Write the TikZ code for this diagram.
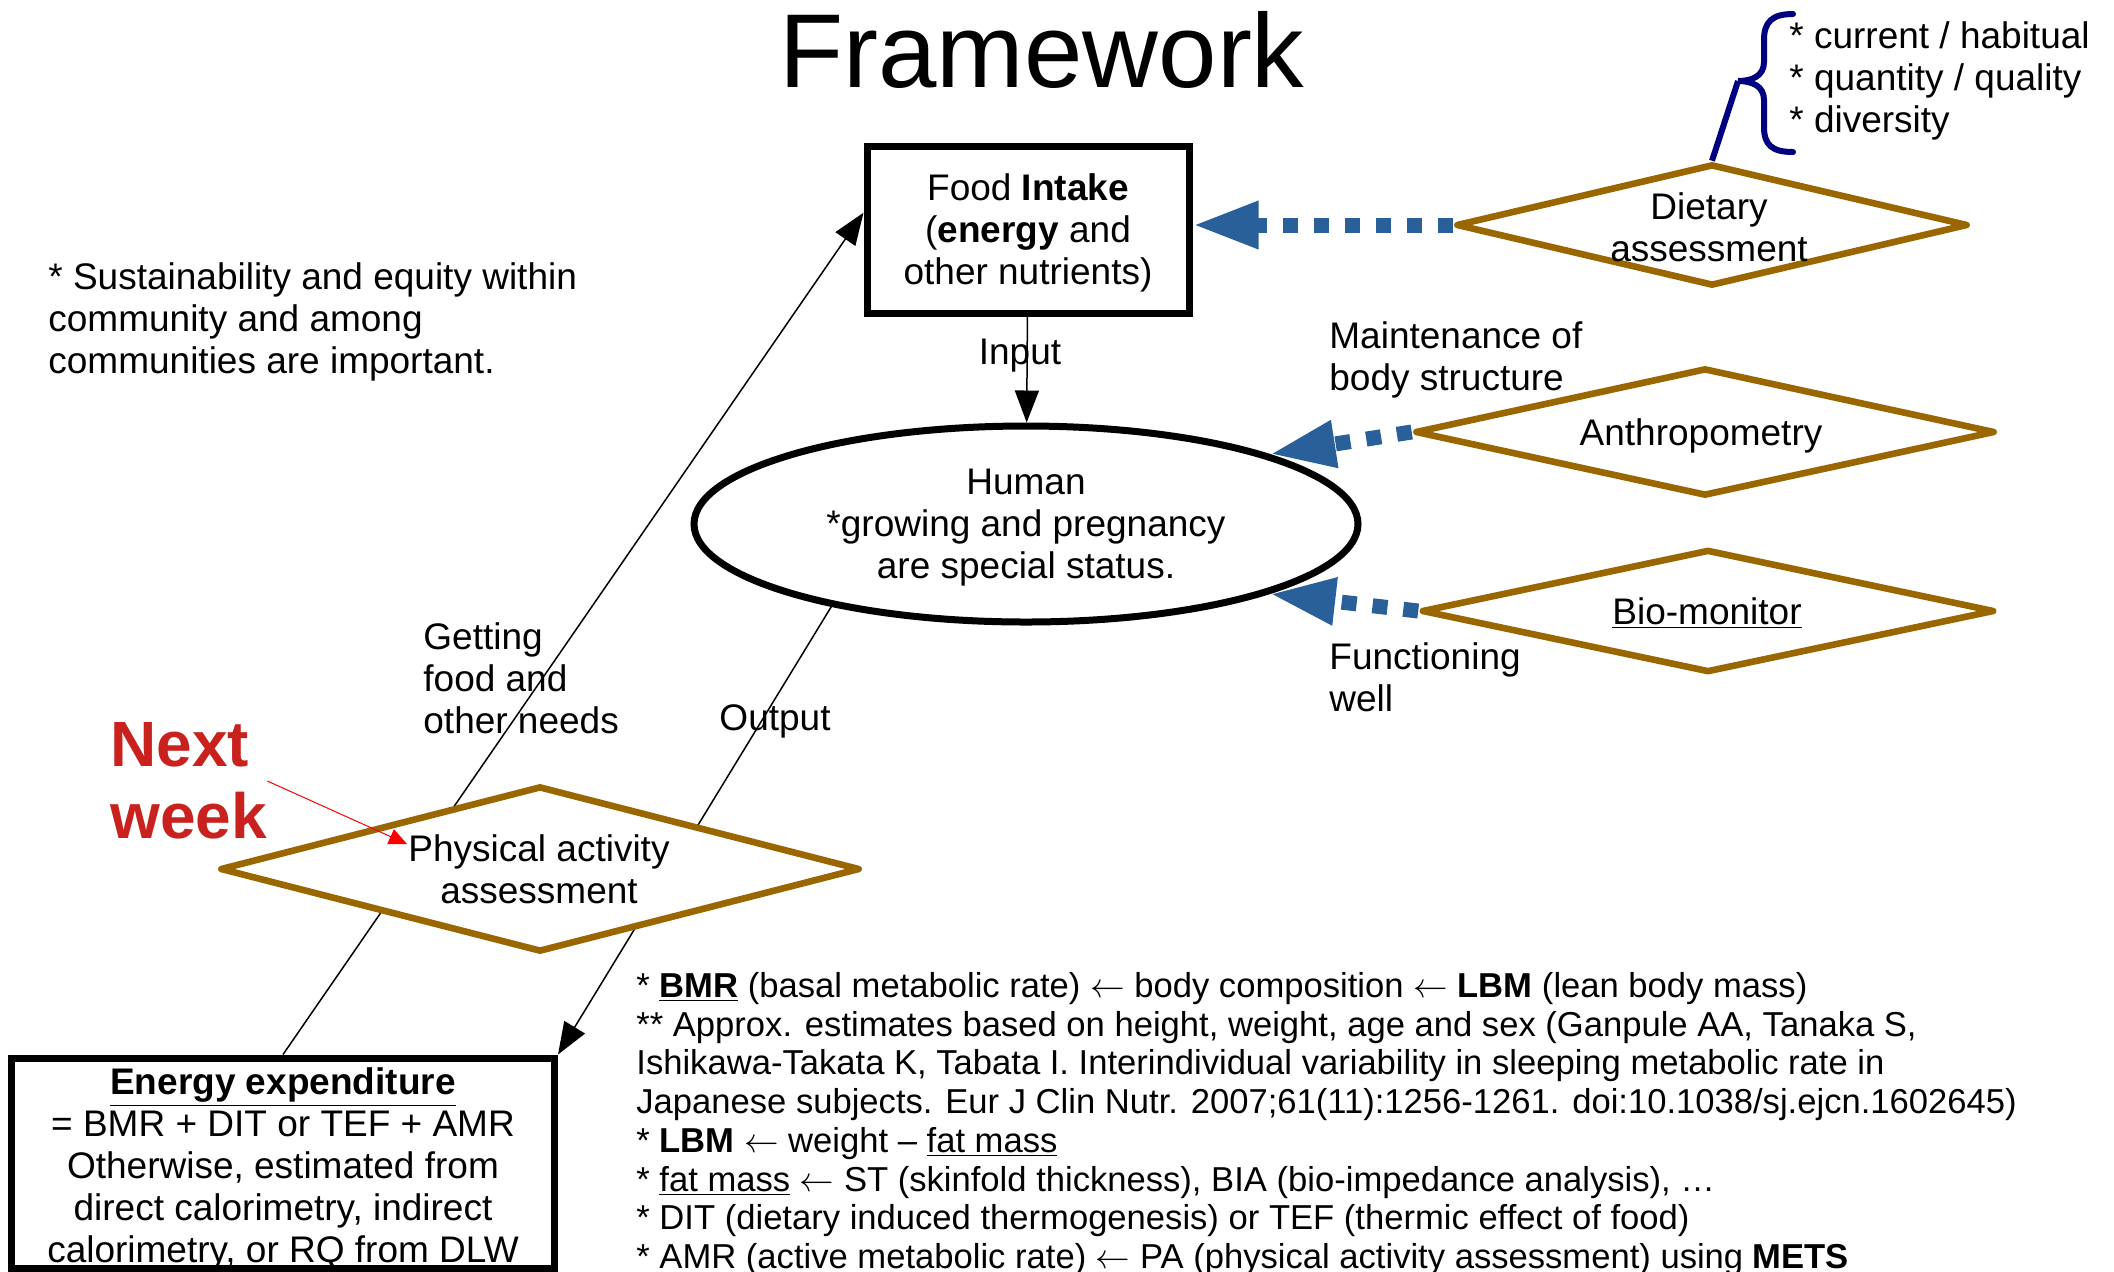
\documentclass[tikz,border=0pt]{standalone}
\usepackage{fontspec}
\setmainfont{Liberation Sans}
\usetikzlibrary{shapes.geometric,arrows.meta,backgrounds}
\definecolor{gold}{RGB}{153,102,0}
\definecolor{measureblue}{RGB}{42,96,153}
\definecolor{bracenavy}{RGB}{0,0,128}
\definecolor{nextred}{RGB}{201,33,30}
\newcommand{\from}{$\leftarrow$}
\begin{document}
\begin{tikzpicture}[x=0.5pt,y=-0.5pt,inner sep=0pt,
  font=\fontsize{18.5}{21}\selectfont,
  every node/.style={align=center},
  bigbox/.style={draw,line width=3.5pt,fill=white},
  assess/.style={diamond,draw=gold,line width=3.3pt,line join=round,fill=white},
  lefttext/.style={align=left,anchor=west},
  notes/.style={align=left,anchor=west,font=\fontsize{17.3}{19.35}\selectfont},
  flow/.style={line width=0.75pt,-{Triangle[length=16pt,width=12pt]}},
  measure/.style={draw=measureblue,line width=7.5pt,dash pattern=on 7.5pt off 8pt,
    -{Triangle[length=33pt,width=22pt]}}]
\useasboundingbox (0,0) rectangle (2114,1271);

% title
\node[font=\fontsize{52.5}{60}\selectfont] (title) at (1042,50) {Framework};

% main nodes
\node[bigbox,minimum width=161pt,minimum height=83.5pt] (intake) at (1028,230) {};
\node (intaketext) at (1028,233) {Food \textbf{Intake}\\(\textbf{energy} and\\other nutrients)};
\node[ellipse,draw,line width=3.5pt,fill=white,minimum width=332pt,minimum height=98pt] (human) at (1026,524) {};
\node (humantext) at (1026,528) {Human\\*growing and pregnancy\\are special status.};
\node[bigbox,minimum width=271.5pt,minimum height=105pt] (expend) at (283,1163) {};
\node (expendtext) at (283,1169)
  {\underline{\textbf{Energy expenditure}}\\= BMR + DIT or TEF + AMR\\Otherwise, estimated from\\direct calorimetry, indirect\\calorimetry, or RQ from DLW};

% assessment diamonds
\node[assess,minimum width=256pt,minimum height=61pt] (diet) at (1712,225) {};
\node (diettext) at (1709,227) {Dietary\\assessment};
\node[assess,minimum width=290pt,minimum height=64pt] (anthro) at (1705,432) {};
\node (anthrotext) at (1701,436) {Anthropometry};
\node[assess,minimum width=286.5pt,minimum height=61.5pt] (bio) at (1708,611) {};
\node (biotext) at (1707,613) {\underline{Bio-monitor}};
\node[assess,minimum width=320pt,minimum height=83pt] (pa) at (540,869) {};
\node (patext) at (539,869) {Physical activity\\assessment};

% labels
\node[lefttext] (sustain) at (48,322) {* Sustainability and equity within\\community and among\\communities are important.};
\node (input) at (1020,356) {Input};
\node (output) at (775,721) {Output};
\node[lefttext] (getting) at (423,678) {Getting\\food and\\other needs};
\node[lefttext] (maintain) at (1329,360) {Maintenance of\\body structure};
\node[lefttext] (function) at (1329,677) {Functioning\\well};
\node[lefttext] (dietlist) at (1789,81) {* current / habitual\\* quantity / quality\\* diversity};
\node[lefttext,text=nextred,font=\fontsize{32}{36}\selectfont\bfseries] (next) at (110,781) {Next\\week};
\coordinate (nexttip) at (407,844);
\coordinate (bracetip) at (1738,81);

\node[notes] (notes) at (636,1124) {%
* \underline{\textbf{BMR}} (basal metabolic rate) \from{} body composition \from{} \textbf{LBM} (lean body mass)\\
** Approx. estimates based on height, weight, age and sex (Ganpule AA, Tanaka S,\\
Ishikawa-Takata K, Tabata I. Interindividual variability in sleeping metabolic rate in\\
Japanese subjects. Eur J Clin Nutr. 2007;61(11):1256-1261. doi:10.1038/sj.ejcn.1602645)\\
* \textbf{LBM} \from{} weight – \underline{fat mass}\\
* \underline{fat mass} \from{} ST (skinfold thickness), BIA (bio-impedance analysis), …\\
* DIT (dietary induced thermogenesis) or TEF (thermic effect of food)\\
* AMR (active metabolic rate) \from{} PA (physical activity assessment) using \textbf{METS}};

% connectors
\begin{scope}[on background layer]
  \draw[flow] (expend.north) -- (intake.174);
  \draw[flow] (human.203) -- (expend.north east);
\end{scope}
\draw[flow] (intake) -- (human);
\draw[measure] (diet.west) -- (diet.west -| intake.east);
\draw[measure] (anthro.west) -- (human.16);
\draw[measure] (bio.west) -- (human.-16);
\draw[red,line width=0.5pt,-{Triangle[length=9pt,width=8pt]}] (next.east) -- (nexttip);

% brace
\draw[bracenavy,line width=3pt] (diet.north) -- (bracetip);
\draw[bracenavy,line width=3pt,line cap=round]
  (1793,14) .. controls (1772,14) and (1764,22) .. (1764,40) -- (1764,62)
  .. controls (1764,76) and (1752,81) .. (bracetip)
  .. controls (1752,81) and (1764,86) .. (1764,100) -- (1764,127)
  .. controls (1764,145) and (1772,152) .. (1793,152);
\end{tikzpicture}
\end{document}
